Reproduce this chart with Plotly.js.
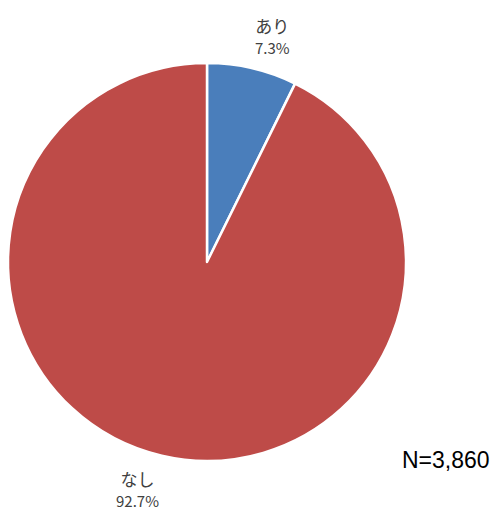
<!DOCTYPE html>
<html><head><meta charset="utf-8">
<script src="https://cdn.plot.ly/plotly-3.0.1.min.js"></script>
<style>body{margin:0;background:#fff}#c{width:500px;height:511px}</style>
</head><body><div id="c"></div>
<script>
const categories = ["あり", "なし"];
const values = [7.3, 92.7];
const colors = ["#4a7ebb", "#be4b48"];
const sampleNote = "N=3,860";

const W = 500, H = 511;
const domX = [0.016, 0.812], domY = [0.0978, 0.8767];

const trace = {
  type: "pie",
  labels: categories,
  values: values,
  sort: false,
  direction: "clockwise",
  rotation: 0,
  marker: {colors: colors, line: {color: "#ffffff", width: 2.5}},
  textinfo: "none",
  hoverinfo: "none",
  domain: {x: domX, y: domY},
  automargin: false
};

// outside labels placed along each slice's mid-angle
const total = values.reduce((a, b) => a + b, 0);
const cx = (domX[0] + domX[1]) / 2 * W;
const cy = (1 - (domY[0] + domY[1]) / 2) * H;
const R = Math.min((domX[1] - domX[0]) * W, (domY[1] - domY[0]) * H) / 2;
const gap = 9;
const annotations = [];
let cum = 0;
values.forEach((v, i) => {
  const mid = (cum + v / 2) / total * 2 * Math.PI;
  cum += v;
  const s = Math.sin(mid), c = Math.cos(mid);
  const px = cx + (R + gap) * s, py = cy - (R + gap) * c;
  annotations.push({
    text: "<span style='font-size:17px'>" + categories[i] + "</span><br>" +
          "<span style='font-size:15px'>" + (v / total * 100).toFixed(1) + "%</span>",
    xref: "paper", yref: "paper", x: px / W, y: 1 - py / H,
    xanchor: s >= 0 ? "left" : "right", yanchor: c >= 0 ? "bottom" : "top",
    align: "center", showarrow: false, borderpad: 0,
    font: {family: "Noto Sans CJK JP, Noto Sans, sans-serif", size: 16, color: "#404040"}
  });
});
annotations.push({
  text: sampleNote, xref: "paper", yref: "paper", x: 0.892, y: 0.0998,
  xanchor: "center", yanchor: "middle", showarrow: false,
  font: {family: "Liberation Sans, Arial, sans-serif", size: 23, color: "#000000"}
});

const layout = {
  width: W, height: H,
  margin: {l: 0, r: 0, t: 0, b: 0},
  showlegend: false,
  paper_bgcolor: "#ffffff",
  annotations: annotations
};
Plotly.newPlot("c", [trace], layout, {displayModeBar: false, staticPlot: true});
</script></body></html>
